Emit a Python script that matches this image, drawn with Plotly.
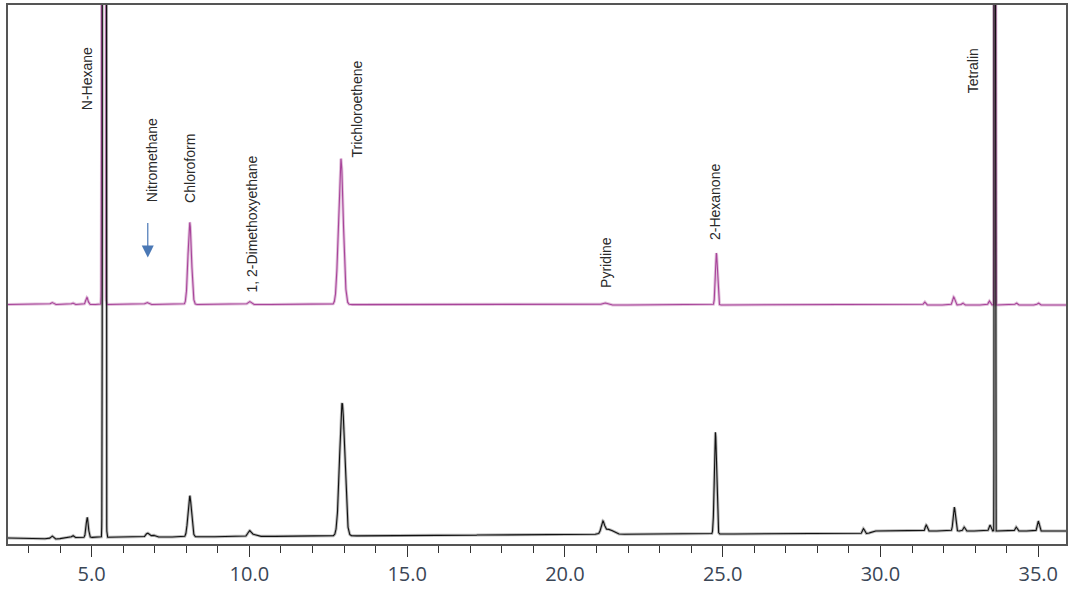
import numpy as np
import plotly.graph_objects as go

# ---------------- data ----------------
# retention time (min), height above baseline (signal units), peak width sigma (min)
black_rt     = [3.74, 4.40, 4.86, 5.40, 6.77, 6.95, 8.11, 10.00, 10.12, 12.94, 21.20, 21.38, 24.77, 29.46, 31.45, 32.34, 32.65, 33.47, 33.62, 34.30, 35.00]
black_height = [3,    2,    20,   69000, 4,   2,    41,   5,     2,     133,   11,    5,     102,   5,     6,     24,    4,     6,     40000, 4,     10]
black_sigma  = [0.04, 0.03, 0.035, 0.019, 0.05, 0.06, 0.055, 0.05, 0.1, 0.08, 0.05, 0.15, 0.035, 0.03, 0.03, 0.035, 0.03, 0.03, 0.007, 0.03, 0.03]

magenta_rt     = [3.74, 4.40, 4.85, 5.38, 6.75, 8.11, 10.00, 12.90, 21.25, 24.80, 31.40, 32.32, 32.60, 33.45, 33.62, 34.30, 35.00]
magenta_height = [2,    1.5,  7,    69000, 2,   82,   3,     146,   2,     52,    3,     8,     2,     4,     40000, 2,     2]
magenta_sigma  = [0.04, 0.03, 0.035, 0.019, 0.05, 0.055, 0.05, 0.075, 0.08, 0.032, 0.03, 0.035, 0.03, 0.03, 0.007, 0.03, 0.03]

# baselines: knots (time, level)
black_base_t = [2.35, 3.9, 4.3, 10.0, 20.0, 29.6, 29.8, 35.9]
black_base_y = [6.0, 5.0, 6.5, 7.5, 9.5, 10.5, 13.0, 13.0]
magenta_base_t = [2.35, 10.0, 20.0, 35.9]
magenta_base_y = [240.0, 240.0, 239.5, 239.5]

tick_vals = [5, 10, 15, 20, 25, 30, 35]
tick_text = ["5.0", "10.0", "15.0", "20.0", "25.0", "30.0", "35.0"]

labels = ["N-Hexane", "Nitromethane", "Chloroform", "1, 2-Dimethoxyethane",
          "Trichloroethene", "Pyridine", "2-Hexanone", "Tetralin"]
label_x = [4.85, 6.90, 8.11, 10.07, 13.42, 21.30, 24.74, 32.93]
label_y = [433, 340, 340, 250, 385, 255, 303, 450]

# ---------------- build traces ----------------
t = np.arange(2.35, 35.9, 0.003)


def chrom(rt, h, s, bt, by):
    y = np.interp(t, bt, by)
    for r, hh, ss in zip(rt, h, s):
        y = y + hh * np.exp(-0.5 * ((t - r) / ss) ** 2)
    return y


yb = chrom(black_rt, black_height, black_sigma, black_base_t, black_base_y)
ym = chrom(magenta_rt, magenta_height, magenta_sigma, magenta_base_t, magenta_base_y)

fig = go.Figure()
# halos (soft anti-aliased look)
fig.add_trace(go.Scatter(x=t, y=ym, mode="lines", line=dict(color="rgba(200,140,190,0.55)", width=3.0), hoverinfo="skip"))
fig.add_trace(go.Scatter(x=t, y=yb, mode="lines", line=dict(color="rgba(130,130,130,0.55)", width=3.0), hoverinfo="skip"))
fig.add_trace(go.Scatter(x=t, y=ym, mode="lines", line=dict(color="#a8449a", width=1.1)))
fig.add_trace(go.Scatter(x=t, y=yb, mode="lines", line=dict(color="#111111", width=1.1)))

for txt, xx, yy in zip(labels, label_x, label_y):
    fig.add_annotation(x=xx, y=yy, xref="x", yref="y", text=txt, textangle=-90,
                       showarrow=False, xanchor="center", yanchor="bottom",
                       font=dict(family="Liberation Sans, Arial, sans-serif", size=14, color="#2a2a2a"))

# Nitromethane arrow
fig.add_annotation(x=6.78, y=287, xref="x", yref="y", ax=6.78, ay=323, axref="x", ayref="y",
                   text="", showarrow=True, arrowhead=2, arrowsize=2.0, arrowwidth=1.2,
                   arrowcolor="#4a78b5")

fig.update_layout(
    width=1070, height=589,
    margin=dict(l=8, r=2, t=5, b=44),
    paper_bgcolor="white", plot_bgcolor="white",
    showlegend=False,
    xaxis=dict(range=[2.35, 35.88], tickvals=tick_vals, ticktext=tick_text,
               ticks="outside", ticklen=11, tickwidth=1.3, tickcolor="#333",
               showgrid=False, zeroline=False, showline=True, mirror=True,
               linecolor="#555", linewidth=1.6,
               tickfont=dict(family="Open Sans, sans-serif", size=20, color="#3a4656"),
               minor=dict(dtick=1, ticks="outside", ticklen=7, tickwidth=1.3, tickcolor="#333", showgrid=False)),
    yaxis=dict(range=[0, 540], showticklabels=False, ticks="", showgrid=False, zeroline=False,
               showline=True, mirror=True, linecolor="#555", linewidth=1.6),
)

fig.write_html("out.html")
